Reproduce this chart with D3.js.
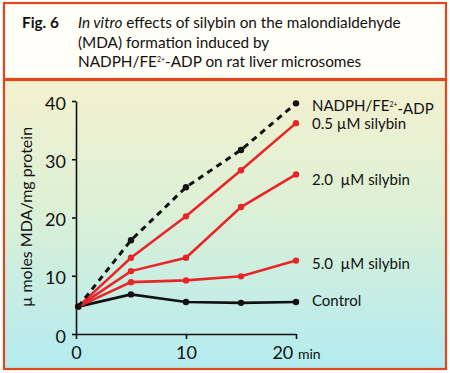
<!DOCTYPE html>
<html>
<head>
<meta charset="utf-8">
<script src="https://cdn.jsdelivr.net/npm/d3@7.9.0/dist/d3.min.js"></script>
<style>
  html, body { margin: 0; padding: 0; background: #fff; }
  svg text { font-family: Lato, "Open Sans", sans-serif; fill: #111; white-space: pre; }
</style>
</head>
<body>
<svg id="chart" width="450" height="373"></svg>
<script>
// time points (min)
const times = [0.2, 5, 10, 15, 20];

// µmoles MDA / mg protein
const nadph = [4.7, 16.1, 25.2, 31.6, 39.6];
const silybin05 = [4.7, 13.1, 20.2, 28.1, 36.2];
const silybin20 = [4.7, 10.8, 13.1, 21.8, 27.4];
const silybin50 = [4.7, 8.9, 9.2, 9.9, 12.6];
const control = [4.7, 6.8, 5.5, 5.35, 5.5];

const seriesNames = ['NADPH/FE²⁺-ADP', '0.5 µM silybin', '2.0  µM silybin', '5.0  µM silybin', 'Control'];
const seriesValues = [nadph, silybin05, silybin20, silybin50, control];
const seriesColors = ['#111', '#e8262a', '#e8262a', '#e8262a', '#111'];
const seriesDashed = [true, false, false, false, false];

const yTicks = [0, 10, 20, 30, 40];
const xTicks = [0, 10, 20];

const svg = d3.select('#chart');
const orange = '#e2471c';

// gradient for the plot panel
const defs = svg.append('defs');
const grad = defs.append('linearGradient')
    .attr('id', 'bg').attr('x1', 0).attr('y1', 0).attr('x2', 0).attr('y2', 1);
grad.append('stop').attr('offset', '0%').attr('stop-color', '#f4f1cf');
grad.append('stop').attr('offset', '45%').attr('stop-color', '#dcf0d6');
grad.append('stop').attr('offset', '100%').attr('stop-color', '#b3ebf0');

// title panel
svg.append('rect')
    .attr('x', 4).attr('y', 3).attr('width', 442).attr('height', 76)
    .attr('fill', '#fffef7').attr('stroke', orange).attr('stroke-width', 2.2);

// plot panel
svg.append('rect')
    .attr('x', 4).attr('y', 80).attr('width', 442).attr('height', 289)
    .attr('fill', 'url(#bg)').attr('stroke', orange).attr('stroke-width', 2.2);

// title text
const title = svg.append('g').style('font-size', '15.3px');
title.append('text').attr('x', 22).attr('y', 28)
    .style('font-weight', 'bold').text('Fig. 6');
const t1 = title.append('text').attr('x', 78).attr('y', 28);
t1.append('tspan').style('font-style', 'italic').text('In vitro');
t1.append('tspan').text(' effects of silybin on the malondialdehyde');
title.append('text').attr('x', 78).attr('y', 47.5)
    .text('(MDA) formation induced by');
const t3 = title.append('text').attr('x', 78).attr('y', 67);
t3.append('tspan').text('NADPH/FE');
t3.append('tspan').attr('dy', -5).style('font-size', '7px').text('2+');
t3.append('tspan').attr('dy', 5).text('-ADP on rat liver microsomes');

// scales
const x = d3.scaleLinear().domain([0, 20]).range([76, 296]);
const y = d3.scaleLinear().domain([0, 40]).range([334, 101]);

// axes
const yAxis = svg.append('g')
    .attr('transform', `translate(${x(0)},0)`)
    .call(d3.axisLeft(y).tickValues(yTicks).tickSize(4).tickSizeOuter(0).tickPadding(6));
yAxis.select('.domain').attr('stroke', '#111').attr('stroke-width', 1.6);
yAxis.selectAll('.tick line').attr('stroke', '#111').attr('stroke-width', 1.6);
yAxis.selectAll('.tick text').style('font-size', '18px').attr('dy', '0.45em');

const xAxis = svg.append('g')
    .attr('transform', `translate(0,${y(0)})`)
    .call(d3.axisBottom(x).tickValues(xTicks).tickSize(5).tickSizeOuter(0).tickPadding(7)
        .tickFormat(d => d));
xAxis.select('.domain').attr('stroke', '#111').attr('stroke-width', 1.6);
xAxis.selectAll('.tick line').attr('stroke', '#111').attr('stroke-width', 1.6);
xAxis.selectAll('.tick text').style('font-size', '18px').attr('dy', '0.71em');
// "min" unit after last tick label, whole label centred on the tick
xAxis.selectAll('.tick text')
    .filter(d => d === 20)
    .text(null)
    .attr('text-anchor', 'middle')
    .call(t => {
        t.append('tspan').text('20 ');
        t.append('tspan').style('font-size', '14px').text('min');
    });

// y axis title
svg.append('text')
    .attr('transform', 'translate(32,217) rotate(-90)')
    .attr('text-anchor', 'middle')
    .style('font-size', '16px')
    .text('µ moles MDA/mg protein');

// lines
const line = d3.line().x((d, i) => x(times[i])).y(d => y(d));

// draw bottom-up so dashed line sits on top
const order = [4, 3, 2, 1, 0];
order.forEach(s => {
    const g = svg.append('g');
    g.append('path')
        .datum(seriesValues[s])
        .attr('d', line)
        .attr('fill', 'none')
        .attr('stroke', seriesColors[s])
        .attr('stroke-width', seriesDashed[s] ? 3 : 2.6)
        .attr('stroke-dasharray', seriesDashed[s] ? '6,5' : null);
    g.selectAll('circle')
        .data(seriesValues[s])
        .join('circle')
        .attr('cx', (d, i) => x(times[i]))
        .attr('cy', d => y(d))
        .attr('r', 3.2)
        .attr('fill', seriesColors[s]);
});

// series labels at line ends
const labelOffsets = [2, 1, 5, 3, -1];
seriesNames.forEach((name, s) => {
    const last = seriesValues[s][seriesValues[s].length - 1];
    const tx = svg.append('text')
        .attr('x', 312)
        .attr('y', y(last) + labelOffsets[s])
        .attr('dy', '0.35em')
        .style('font-size', '15px');
    if (s === 0) {
        tx.append('tspan').text('NADPH/FE');
        tx.append('tspan').attr('dy', '-0.45em').style('font-size', '7px').text('2+');
        tx.append('tspan').attr('dy', '0.45em').text('-ADP');
    } else {
        tx.text(name);
    }
});
</script>
</body>
</html>
